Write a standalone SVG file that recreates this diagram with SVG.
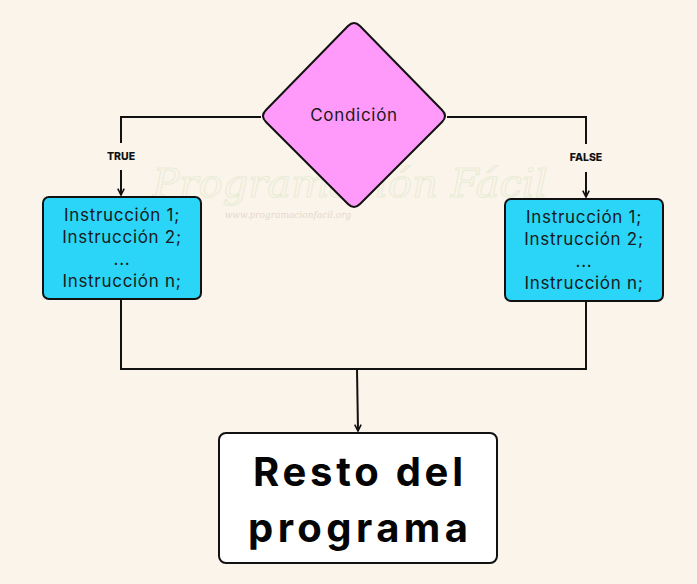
<svg xmlns="http://www.w3.org/2000/svg" width="697" height="584" viewBox="0 0 697 584">
<style>
.bg{fill:#FBF4EB}
.ln{fill:none;stroke:#111;stroke-width:2}
.box{fill:#2AD5F7;stroke:#111;stroke-width:2}
.txt{font-family:Inter,"Noto Sans",sans-serif;font-size:17px;fill:#1a1a1a;text-anchor:middle;letter-spacing:0.7px}
.lbl{font-family:Inter,"Noto Sans",sans-serif;font-size:10.5px;font-weight:800;fill:#111;text-anchor:middle}
.big{font-family:Inter,"Noto Sans",sans-serif;font-size:40px;font-weight:700;fill:#050505;text-anchor:middle}
.wm{font-family:"DejaVu Serif",serif;font-style:italic;fill:none;stroke-width:1.2;opacity:0.18}
</style>
<defs>
<marker id="ah" viewBox="0 0 10 10" refX="9" refY="5" markerWidth="8" markerHeight="8" markerUnits="userSpaceOnUse" orient="auto">
<path d="M1,1 L9,5 L1,9" fill="none" stroke="#111" stroke-width="2"/>
</marker>
</defs>
<rect class="bg" x="0" y="0" width="697" height="584"/>
<g id="watermark">
<text class="wm" x="350" y="197" font-size="40" text-anchor="middle" stroke="#9ccc7a">Programación Fácil</text>
<text x="288" y="218" font-family="'DejaVu Serif',serif" font-style="italic" font-size="9" text-anchor="middle" fill="#c8b8a8" opacity="0.45">www.programacionfacil.org</text>
</g>
<g id="connectors">
<path class="ln" d="M261,117 H121 V143"/>
<path class="ln" d="M121,170 V195" marker-end="url(#ah)"/>
<path class="ln" d="M447,117 H586 V144"/>
<path class="ln" d="M586,172 V197" marker-end="url(#ah)"/>
<path class="ln" d="M121,299 V369 H586 V301"/>
<path class="ln" d="M357,369 L358,431" marker-end="url(#ah)"/>
<text class="lbl" x="121" y="160">TRUE</text>
<text class="lbl" x="586" y="161">FALSE</text>
</g>
<g id="condicion">
<path d="M348,26 Q354,20 360,26 L442,110 Q448,116 442,122 L360,204 Q354,210 348,204 L266,122 Q260,116 266,110 Z" fill="#FF99FA" stroke="#111" stroke-width="2"/>
<text class="txt" x="354" y="121" font-size="16.5">Condición</text>
</g>
<g id="bloque-true">
<rect class="box" x="43" y="197" width="158" height="102" rx="6"/>
<text class="txt" x="122" y="221">Instrucción 1;</text>
<text class="txt" x="122" y="243">Instrucción 2;</text>
<text class="txt" x="122" y="265">...</text>
<text class="txt" x="122" y="287">Instrucción n;</text>
</g>
<g id="bloque-false">
<rect class="box" x="505" y="199" width="158" height="102" rx="6"/>
<text class="txt" x="584" y="223">Instrucción 1;</text>
<text class="txt" x="584" y="245">Instrucción 2;</text>
<text class="txt" x="584" y="267">...</text>
<text class="txt" x="584" y="289">Instrucción n;</text>
</g>
<g id="resto">
<rect x="219" y="433" width="278" height="130" rx="7" fill="#ffffff" stroke="#111" stroke-width="2"/>
<text class="big" x="358" y="486" textLength="210" lengthAdjust="spacing">Resto del</text>
<text class="big" x="358" y="542" textLength="220" lengthAdjust="spacing">programa</text>
</g>
</svg>
